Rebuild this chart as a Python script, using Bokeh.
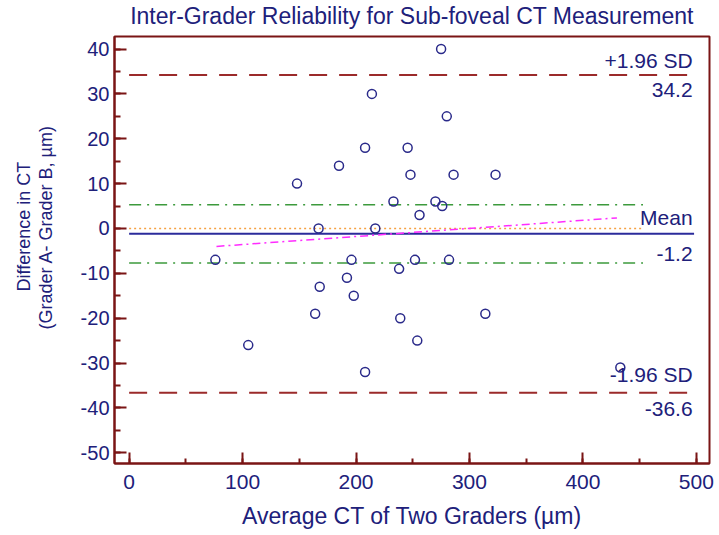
from bokeh.plotting import figure
from bokeh.models import (Range1d, SingleIntervalTicker, Label, Title, LinearAxis,
                          FixedTicker, CustomJSTickFormatter)
from bokeh.embed import file_html
from bokeh.resources import INLINE

# ---- data ----
avg_ct = [214, 208, 245.5, 185, 248, 148, 233, 256, 167, 217, 275, 280, 286, 323,
          270, 276, 76, 196, 252, 282, 105, 168, 164, 192, 198, 208, 238, 239, 254,
          314, 433]
diff_ct = [30, 18, 18, 14, 12, 10, 6, 3, 0, 0, 40, 25, 12, 12,
           6, 5, -7, -7, -7, -7, -26, -13, -19, -11, -15, -32, -9, -20, -25,
           -19, -31]

mean_diff = -1.2
upper_loa = 34.2
lower_loa = -36.6
ci_upper = 5.3
ci_lower = -7.7
equality = 0
reg_x = [77, 430]
reg_y = [-4.0, 2.35]

loa_x = [0, 495]
mean_x = [0, 498]
ci_x = [0, 453]

title_text = "Inter-Grader Reliability for Sub-foveal CT Measurement"
xlabel = "Average CT of Two Graders (\u00b5m)"
ylabel1 = "Difference in CT"
ylabel2 = "(Grader A- Grader B, \u00b5m)"

NAVY = "#20207a"
MAROON = "#7a1515"
FONT = "Liberation Sans"

p = figure(width=719, height=535, output_backend="svg", toolbar_location=None,
           x_range=Range1d(-12.9, 511.6), y_range=Range1d(-52.4, 42.8),
           min_border_left=114, min_border_right=10, min_border_top=36,
           min_border_bottom=72)
p.grid.visible = False
p.outline_line_color = MAROON
p.outline_line_width = 2
p.background_fill_color = "white"
p.border_fill_color = "white"

fmt = CustomJSTickFormatter(code="return tick.toString()")
for ax in (p.xaxis[0], p.yaxis[0]):
    ax.axis_line_color = MAROON
    ax.axis_line_width = 2
    ax.major_tick_line_color = MAROON
    ax.major_tick_line_width = 2
    ax.minor_tick_line_color = MAROON
    ax.minor_tick_line_width = 2
    ax.major_tick_out = 0
    ax.minor_tick_out = 0
    ax.major_label_text_color = NAVY
    ax.major_label_text_font = FONT
    ax.formatter = fmt

p.xaxis[0].ticker = SingleIntervalTicker(interval=100, num_minor_ticks=2)
p.yaxis[0].ticker = SingleIntervalTicker(interval=10, num_minor_ticks=2)
p.xaxis[0].major_tick_in = 11
p.xaxis[0].minor_tick_in = 5
p.yaxis[0].major_tick_in = 12
p.yaxis[0].minor_tick_in = 6
p.xaxis[0].major_label_text_font_size = "21px"
p.yaxis[0].major_label_text_font_size = "20px"
p.xaxis[0].major_label_standoff = 11
p.yaxis[0].major_label_standoff = 5

p.xaxis[0].axis_label = xlabel
p.xaxis[0].axis_label_text_font_size = "23px"
p.xaxis[0].axis_label_text_font_style = "normal"
p.xaxis[0].axis_label_text_color = NAVY
p.xaxis[0].axis_label_text_font = FONT
p.xaxis[0].axis_label_standoff = 11


def spacer(size, tick):
    return LinearAxis(ticker=FixedTicker(ticks=[tick], minor_ticks=[]),
                      formatter=CustomJSTickFormatter(code="return ''"),
                      axis_line_color=None, major_tick_line_color=None,
                      minor_tick_line_color=None, major_tick_out=size,
                      minor_tick_out=0, major_tick_in=0, minor_tick_in=0,
                      major_label_standoff=0, major_label_text_font_size="1px")


# space between y tick labels and the two-line y label
p.add_layout(spacer(22, 0), "left")
p.add_layout(Title(text=ylabel2, align="left", offset=134, vertical_align="bottom",
                   standoff=0, text_font_size="18px", text_color=NAVY,
                   text_font_style="normal", text_font=FONT), "left")
p.add_layout(Title(text=ylabel1, align="left", offset=172, vertical_align="bottom",
                   standoff=0, text_font_size="18px", text_color=NAVY,
                   text_font_style="normal", text_font=FONT), "left")

# space between frame and title
p.add_layout(spacer(8, 250), "above")
p.title.text = title_text
p.title.align = "center"
p.title.standoff = 0
p.title.text_font_size = "23px"
p.title.text_font_style = "normal"
p.title.text_color = NAVY
p.title.text_font = FONT

# reference lines
p.line(loa_x, [upper_loa, upper_loa], line_color="#9b2a2a", line_width=2, line_dash="18 12")
p.line(loa_x, [lower_loa, lower_loa], line_color="#9b2a2a", line_width=2, line_dash="18 12")
p.line(ci_x, [ci_upper, ci_upper], line_color="#3c9a3c", line_width=1.5, line_dash="12 6 2 6")
p.line(ci_x, [ci_lower, ci_lower], line_color="#3c9a3c", line_width=1.5, line_dash="12 6 2 6")
p.line(ci_x, [equality, equality], line_color="#f5a142", line_width=1.5, line_dash="2 3")
p.line(mean_x, [mean_diff, mean_diff], line_color="#2b2b9b", line_width=2)
p.line(reg_x, reg_y, line_color="#ff2cff", line_width=1.5, line_dash="8 4 2 4")

p.scatter(avg_ct, diff_ct, marker="circle", size=9, fill_color=None,
          line_color="#2a2a8a", line_width=1.5)


def lab(y, text):
    p.add_layout(Label(x=496.7, y=y, text=text, text_align="right", text_baseline="middle",
                       text_font_size="21px", text_color=NAVY, text_font=FONT))


lab(37.46, "+1.96 SD")
lab(30.82, f"{upper_loa:.1f}")
lab(2.42, "Mean")
lab(-5.67, f"{mean_diff:.1f}")
lab(-32.6, "-1.96 SD")
lab(-40.33, f"{lower_loa:.1f}")

open("out.html", "w").write(file_html(p, INLINE))
